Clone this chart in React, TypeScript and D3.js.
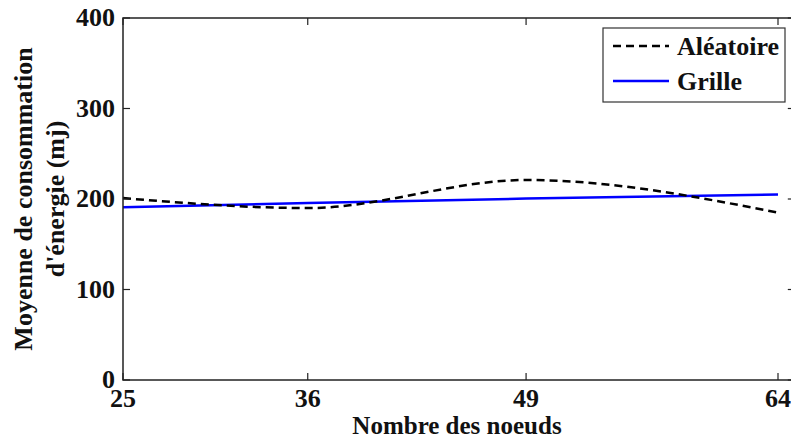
import React from "react";
import * as d3 from "d3";

const nodes = [25, 36, 49, 64];
const aleatoire = [201, 190, 221, 185];
const grille = [191, 195.5, 200.5, 205];
const xTicks = [25, 36, 49, 64];
const yTicks = [0, 100, 200, 300, 400];

const W = 791, H = 438;
const M = { left: 123, top: 18, bottom: 380 };
const FONT = "'Liberation Serif', 'Times New Roman', serif";
const FS = 26;

export default function App() {
  const x = d3.scaleLinear().domain([25, 65]).range([M.left, M.left + (40 * 655) / 39]);
  const y = d3.scaleLinear().domain([0, 400]).range([M.bottom, M.top]);
  const right = x(65);
  const aData = nodes.map((n, i) => [n, aleatoire[i]] as [number, number]);
  const gData = nodes.map((n, i) => [n, grille[i]] as [number, number]);
  const curve = d3.line<[number, number]>().x(d => x(d[0])).y(d => y(d[1])).curve(d3.curveMonotoneX);
  const straight = d3.line<[number, number]>().x(d => x(d[0])).y(d => y(d[1]));
  const tick = 7;
  return (
    <svg width={W} height={H} style={{ position: "absolute", left: 0, top: 0, background: "#fff" }}>
      <rect x={0} y={0} width={W} height={H} fill="#fff" />
      <path d={straight(gData) || ""} fill="none" stroke="#0000ff" strokeWidth={2.5} />
      <path d={curve(aData) || ""} fill="none" stroke="#000" strokeWidth={2.5} strokeDasharray="8,5" />
      <rect x={M.left} y={M.top} width={right - M.left} height={M.bottom - M.top} fill="none" stroke="#222" strokeWidth={1.5} />
      {xTicks.map(t => (
        <g key={"x" + t}>
          <line x1={x(t)} x2={x(t)} y1={M.bottom} y2={M.bottom - tick} stroke="#222" strokeWidth={1.2} />
          <line x1={x(t)} x2={x(t)} y1={M.top} y2={M.top + tick} stroke="#222" strokeWidth={1.2} />
          <text x={x(t)} y={407} textAnchor="middle" fontFamily={FONT} fontWeight="bold" fontSize={FS} fill="#111">{t}</text>
        </g>
      ))}
      {yTicks.map(t => (
        <g key={"y" + t}>
          <line x1={M.left} x2={M.left + tick} y1={y(t)} y2={y(t)} stroke="#222" strokeWidth={1.2} />
          <line x1={right} x2={right - tick} y1={y(t)} y2={y(t)} stroke="#222" strokeWidth={1.2} />
          <text x={M.left - 8} y={y(t) + 8} textAnchor="end" fontFamily={FONT} fontWeight="bold" fontSize={FS} fill="#111">{t}</text>
        </g>
      ))}
      <text x={457} y={434} textAnchor="middle" fontFamily={FONT} fontWeight="bold" fontSize={25} fill="#111">Nombre des noeuds</text>
      <g transform={`translate(32, ${(M.top + M.bottom) / 2}) rotate(-90)`}>
        <text x={0} y={0} textAnchor="middle" fontFamily={FONT} fontWeight="bold" fontSize={FS} fill="#111">Moyenne de consommation</text>
        <text x={0} y={32} textAnchor="middle" fontFamily={FONT} fontWeight="bold" fontSize={FS} fill="#111">d'énergie (mj)</text>
      </g>
      <g>
        <rect x={603} y={28} width={182} height={74} fill="#fff" stroke="#333" strokeWidth={1.2} />
        <line x1={613} x2={669} y1={46} y2={46} stroke="#000" strokeWidth={2.5} strokeDasharray="8,5" />
        <text x={677} y={55} fontFamily={FONT} fontWeight="bold" fontSize={FS} fill="#111">Aléatoire</text>
        <line x1={613} x2={669} y1={81} y2={81} stroke="#0000ff" strokeWidth={2.5} />
        <text x={677} y={90} fontFamily={FONT} fontWeight="bold" fontSize={FS} fill="#111">Grille</text>
      </g>
    </svg>
  );
}
